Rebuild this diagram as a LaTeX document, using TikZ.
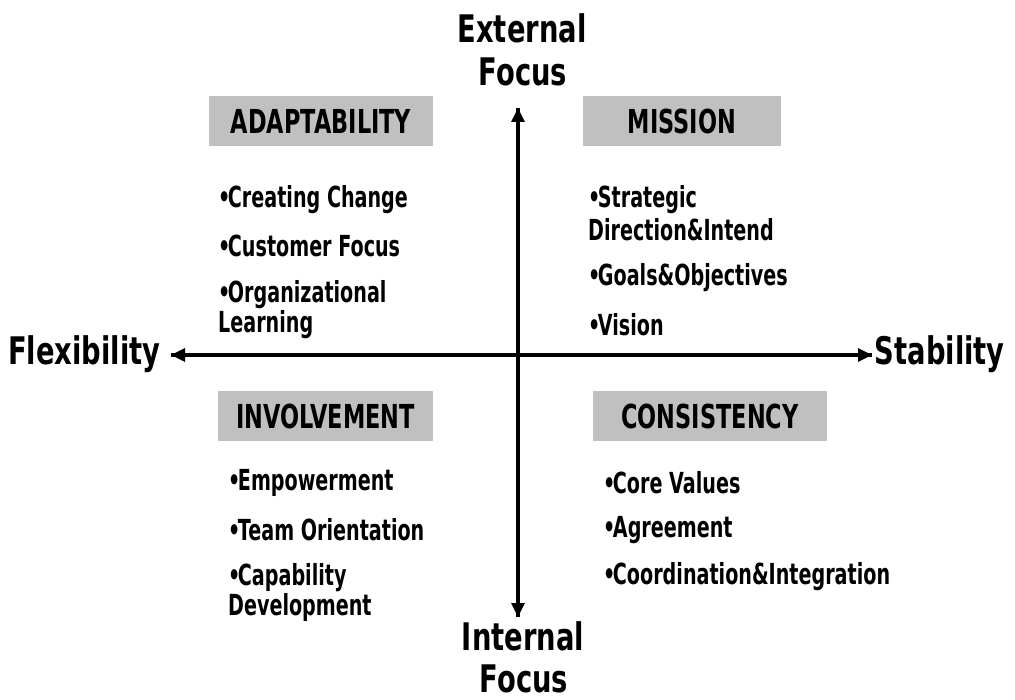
\documentclass[tikz,border=0pt]{standalone}
\usepackage{fontspec}
\usetikzlibrary{arrows.meta}
\newfontfamily\bigfont{DejaVu Sans}[FakeStretch=0.72]
\newfontfamily\headfont{DejaVu Sans}[FakeStretch=0.68]
\newfontfamily\itemfont{DejaVu Sans}[FakeStretch=0.66]
\newcommand\bul{•\kern-2.5pt}
\definecolor{boxgray}{RGB}{192,192,192}
\tikzset{
  axislabel/.style={inner sep=0pt, font=\bigfont\bfseries\fontsize{38}{38}\selectfont},
  headbox/.style={fill=boxgray, draw=none, inner sep=0pt, font=\headfont\bfseries\fontsize{33}{33}\selectfont},
  item/.style={anchor=west, inner sep=0pt, font=\itemfont\bfseries\fontsize{29}{29}\selectfont},
  axis/.style={line width=3.2pt, -{Triangle[length=14pt,width=13pt]}},
}
\begin{document}
\begin{tikzpicture}[x=1pt,y=-1pt]
\useasboundingbox (0,0) rectangle (1015,700);
% axis labels
\node[axislabel] (ext1) at (522,28) {External};
\node[axislabel] (ext2) at (523,72) {Focus};
\node[axislabel] (int1) at (523,636) {Internal};
\node[axislabel] (int2) at (524,679) {Focus};
\node[axislabel, anchor=west] (flex) at (8,354) {Flexibility};
\node[axislabel, anchor=east] (stab) at (1005,354) {Stability};
% axes
\coordinate (top) at (518,108);
\coordinate (bot) at (518,617);
\coordinate (lft) at (171,355);
\coordinate (rgt) at (872,355);
\draw[axis] (bot) -- (top);
\draw[axis] (top) -- (bot);
\draw[axis] (rgt) -- (lft);
\draw[axis] (lft) -- (rgt);
% heading boxes
\node[headbox, minimum width=224pt, minimum height=50pt] (adapt) at (321,121) {ADAPTABILITY};
\node[headbox, minimum width=198pt, minimum height=50pt] (mission) at (682,121) {MISSION};
\node[headbox, minimum width=215pt, minimum height=50pt] (involve) at (325.5,416) {INVOLVEMENT};
\node[headbox, minimum width=234pt, minimum height=50pt] (consist) at (710,416) {CONSISTENCY};
% adaptability items
\node[item] (a1) at (218,200) {\bul Creating Change};
\node[item] (a2) at (218,246) {\bul Customer Focus};
\node[item] (a3) at (218,295) {\bul Organizational};
\node[item] (a4) at (218,325) {Learning};
% mission items
\node[item] (m1) at (588,200) {\bul Strategic};
\node[item] (m2) at (588,230) {Direction\&Intend};
\node[item] (m3) at (588,278) {\bul Goals\&Objectives};
\node[item] (m4) at (588,325) {\bul Vision};
% involvement items
\node[item] (i1) at (228,483) {\bul Empowerment};
\node[item] (i2) at (228,530) {\bul Team Orientation};
\node[item] (i3) at (228,578) {\bul Capability};
\node[item] (i4) at (228,607) {Development};
% consistency items
\node[item] (c1) at (603,483) {\bul Core Values};
\node[item] (c2) at (603,530) {\bul Agreement};
\node[item] (c3) at (603,577) {\bul Coordination\&Integration};
\end{tikzpicture}
\end{document}
